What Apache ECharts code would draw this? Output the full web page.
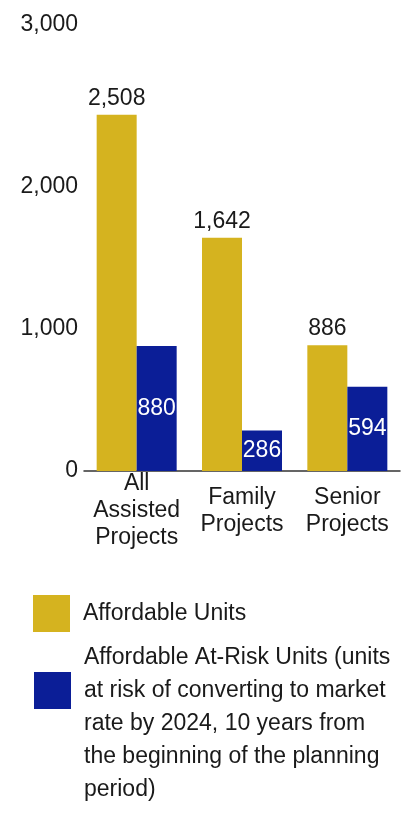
<!DOCTYPE html>
<html>
<head>
<meta charset="utf-8">
<style>
  html, body { margin: 0; padding: 0; background: #ffffff; }
  #chart { width: 413px; height: 819px; }
</style>
<script src="https://cdn.jsdelivr.net/npm/echarts@6/dist/echarts.min.js"></script>
</head>
<body>
<div id="chart"></div>
<script>
// Project groups along the x axis
const categories = ['All\nAssisted\nProjects', 'Family\nProjects', 'Senior\nProjects'];

// Unit counts per group
const affordableUnits = [2508, 1642, 886];
const atRiskUnits = [880, 286, 594];

// Series names and the wrapped legend text for the at-risk series
const affordableName = 'Affordable Units';
const atRiskName = 'Affordable At-Risk Units (units at risk of converting to market rate by 2024, 10 years from the beginning of the planning period)';
const atRiskLegendLines = [
  'Affordable At-Risk Units (units',
  'at risk of converting to market',
  'rate by 2024, 10 years from',
  'the beginning of the planning',
  'period)'
];

// Value axis ticks
const yTicks = [0, 1000, 2000, 3000];

const GOLD = '#D5B31F';
const NAVY = '#0B1E97';
const FONT = '"Liberation Sans", Arial, sans-serif';

const fmt = v => v.toLocaleString('en-US');

const chart = echarts.init(document.getElementById('chart'), null, { renderer: 'canvas' });

chart.setOption({
  animation: false,
  backgroundColor: '#ffffff',
  textStyle: { fontFamily: FONT },
  grid: { left: 84, right: 13, top: 45, bottom: 348, containLabel: false },
  xAxis: {
    type: 'category',
    data: categories,
    axisLine: { show: true, lineStyle: { color: '#333333', width: 1.5 } },
    axisTick: { show: false },
    axisLabel: {
      color: '#1a1a1a',
      fontSize: 23,
      fontFamily: FONT,
      lineHeight: 27,
      verticalAlign: 'middle',
      margin: 40,
      interval: 0
    }
  },
  yAxis: {
    type: 'value',
    min: yTicks[0],
    max: yTicks[yTicks.length - 1],
    interval: 1000,
    axisLine: { show: false },
    axisTick: { show: false },
    splitLine: { show: false },
    axisLabel: {
      color: '#1a1a1a',
      fontSize: 23,
      fontFamily: FONT,
      margin: 6,
      formatter: v => v === yTicks[yTicks.length - 1] ? '{top|' + fmt(v) + '}' : fmt(v),
      rich: {
        top: { fontSize: 23, fontFamily: FONT, color: '#1a1a1a', padding: [0, 0, 40, 0] }
      }
    }
  },
  legend: [
    {
      data: [affordableName],
      orient: 'vertical',
      left: 33,
      top: 595,
      padding: 0,
      itemWidth: 37,
      itemHeight: 37,
      icon: 'rect',
      selectedMode: false,
      textStyle: { fontSize: 23, fontFamily: FONT, color: '#1a1a1a', padding: [0, 0, 0, 8] }
    },
    {
      data: [atRiskName],
      orient: 'vertical',
      left: 34,
      top: 575,
      padding: 0,
      itemWidth: 37,
      itemHeight: 37,
      icon: 'rect',
      selectedMode: false,
      // two leading blank lines drop the wrapped text so the swatch sits beside its first lines
      formatter: () => '\n\n' + atRiskLegendLines.join('\n'),
      textStyle: {
        fontSize: 23,
        fontFamily: FONT,
        color: '#1a1a1a',
        lineHeight: 33,
        padding: [0, 0, 0, 8]
      }
    }
  ],
  series: [
    {
      name: affordableName,
      type: 'bar',
      data: affordableUnits,
      barWidth: 40,
      barGap: '0%',
      itemStyle: { color: GOLD },
      label: {
        show: true,
        position: 'top',
        distance: 5,
        fontSize: 23,
        fontFamily: FONT,
        color: '#1a1a1a',
        formatter: p => fmt(p.value)
      }
    },
    {
      name: atRiskName,
      type: 'bar',
      data: atRiskUnits,
      barWidth: 40,
      barGap: '0%',
      itemStyle: { color: NAVY },
      label: {
        show: true,
        position: 'inside',
        fontSize: 23,
        fontFamily: FONT,
        color: '#ffffff',
        formatter: p => fmt(p.value)
      }
    }
  ]
});
</script>
</body>
</html>
